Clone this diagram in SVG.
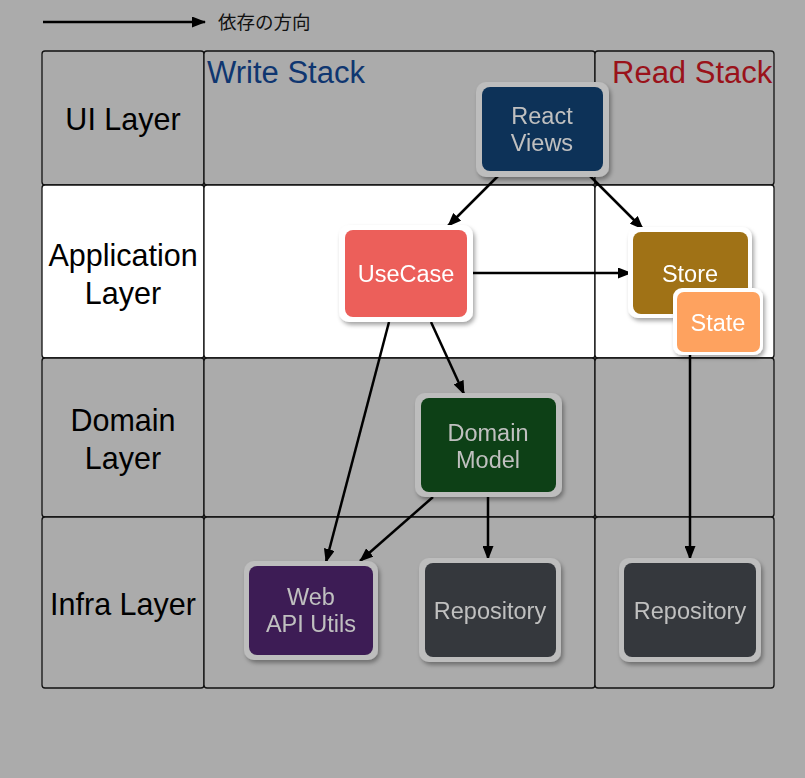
<svg xmlns="http://www.w3.org/2000/svg" width="805" height="778" viewBox="0 0 805 778">
<style>
.cell{stroke:#111;stroke-width:1.3;}
.g{fill:#ababab;}
.w{fill:#fff;}
.lbl{font-family:"Liberation Sans",Arial,sans-serif;font-size:30.5px;fill:#000;text-anchor:middle;}
.nt{font-family:"Liberation Sans",Arial,sans-serif;font-size:23.5px;text-anchor:middle;}
.dim{fill:#c0c0c0;}
.bright{fill:#fff;}
.ob{fill:#bdbdbd;}
.obw{fill:#fff;}
.conn{stroke:#000;stroke-width:2.5;fill:none;marker-end:url(#ah);}
</style>
<defs>
<marker id="ah" markerUnits="userSpaceOnUse" markerWidth="14" markerHeight="11" refX="13" refY="5.5" orient="auto">
<path d="M0,0 L14,5.5 L0,11 z" fill="#000"/>
</marker>
<filter id="sh" x="-20%" y="-20%" width="150%" height="150%">
<feDropShadow dx="2" dy="3" stdDeviation="2" flood-color="#000" flood-opacity="0.35"/>
</filter>
</defs>
<rect x="0" y="0" width="805" height="778" fill="#ababab"/>
<g id="legend">
<line x1="43" y1="22" x2="205" y2="22" class="conn"/>
<text x="218" y="29" font-family="Liberation Sans,'Noto Sans CJK JP',sans-serif" font-size="18.5" fill="#111">依存の方向</text>
</g>
<g id="grid">
<rect class="cell g" x="42" y="51" width="162" height="134" rx="3"/>
<rect class="cell g" x="204" y="51" width="391" height="134" rx="3"/>
<rect class="cell g" x="595" y="51" width="179" height="134" rx="3"/>
<rect class="cell w" x="42" y="185" width="162" height="173" rx="3"/>
<rect class="cell w" x="204" y="185" width="391" height="173" rx="3"/>
<rect class="cell w" x="595" y="185" width="179" height="173" rx="3"/>
<rect class="cell g" x="42" y="358" width="162" height="159" rx="3"/>
<rect class="cell g" x="204" y="358" width="391" height="159" rx="3"/>
<rect class="cell g" x="595" y="358" width="179" height="159" rx="3"/>
<rect class="cell g" x="42" y="517" width="162" height="171" rx="3"/>
<rect class="cell g" x="204" y="517" width="391" height="171" rx="3"/>
<rect class="cell g" x="595" y="517" width="179" height="171" rx="3"/>
</g>
<g id="headers">
<text x="207" y="83" font-family="Liberation Sans,Arial,sans-serif" font-size="31" fill="#0f3670">Write Stack</text>
<text x="612" y="83" font-family="Liberation Sans,Arial,sans-serif" font-size="31" fill="#9a121a">Read Stack</text>
</g>
<g id="row-labels">
<text class="lbl" x="123" y="130">UI Layer</text>
<text class="lbl" x="123" y="266">Application</text>
<text class="lbl" x="123" y="304">Layer</text>
<text class="lbl" x="123" y="431">Domain</text>
<text class="lbl" x="123" y="469">Layer</text>
<text class="lbl" x="123" y="615">Infra Layer</text>
</g>
<g id="connectors">
<line class="conn" x1="498" y1="176" x2="448" y2="226"/>
<line class="conn" x1="590" y1="176" x2="643" y2="229"/>
<line class="conn" x1="473" y1="273" x2="631" y2="273"/>
<line class="conn" x1="389" y1="322" x2="326" y2="562"/>
<line class="conn" x1="431" y1="322" x2="464" y2="394"/>
<line class="conn" x1="433" y1="497" x2="360" y2="561"/>
<line class="conn" x1="488" y1="497" x2="488" y2="559"/>
<line class="conn" x1="690" y1="355" x2="690" y2="559"/>
</g>
<g id="react-views" filter="url(#sh)">
<rect class="ob" x="476" y="82" width="133" height="95" rx="10"/>
<rect x="482" y="87" width="121" height="84" rx="8" fill="#0e3358"/>
<text class="nt dim" x="542" y="124">React</text>
<text class="nt dim" x="542" y="151">Views</text>
</g>
<g id="usecase" filter="url(#sh)">
<rect class="obw" x="339" y="225" width="134" height="97" rx="10"/>
<rect x="345" y="230" width="122" height="87" rx="8" fill="#ec5f5a"/>
<text class="nt bright" x="406" y="282">UseCase</text>
</g>
<g id="store" filter="url(#sh)">
<rect class="obw" x="628" y="227" width="124" height="91" rx="10"/>
<rect x="633" y="232" width="115" height="82" rx="8" fill="#a07212"/>
<text class="nt bright" x="690" y="282">Store</text>
</g>
<g id="state" filter="url(#sh)">
<rect class="obw" x="673" y="288" width="90" height="67" rx="9"/>
<rect x="677" y="292" width="83" height="60" rx="7" fill="#fea25e"/>
<text class="nt bright" x="718" y="331">State</text>
</g>
<g id="domain-model" filter="url(#sh)">
<rect class="ob" x="415" y="393" width="147" height="104" rx="10"/>
<rect x="421" y="398" width="135" height="94" rx="8" fill="#0b3f13"/>
<text class="nt dim" x="488" y="441">Domain</text>
<text class="nt dim" x="488" y="468">Model</text>
</g>
<g id="web-api-utils" filter="url(#sh)">
<rect class="ob" x="244" y="561" width="134" height="99" rx="10"/>
<rect x="249" y="566" width="124" height="89" rx="8" fill="#3e1f55"/>
<text class="nt dim" x="311" y="605">Web</text>
<text class="nt dim" x="311" y="632">API Utils</text>
</g>
<g id="repository-write" filter="url(#sh)">
<rect class="ob" x="419" y="558" width="142" height="104" rx="10"/>
<rect x="425" y="563" width="131" height="94" rx="8" fill="#36393e"/>
<text class="nt dim" x="490" y="619">Repository</text>
</g>
<g id="repository-read" filter="url(#sh)">
<rect class="ob" x="619" y="558" width="142" height="104" rx="10"/>
<rect x="624" y="563" width="132" height="94" rx="8" fill="#36393e"/>
<text class="nt dim" x="690" y="619">Repository</text>
</g>
</svg>
